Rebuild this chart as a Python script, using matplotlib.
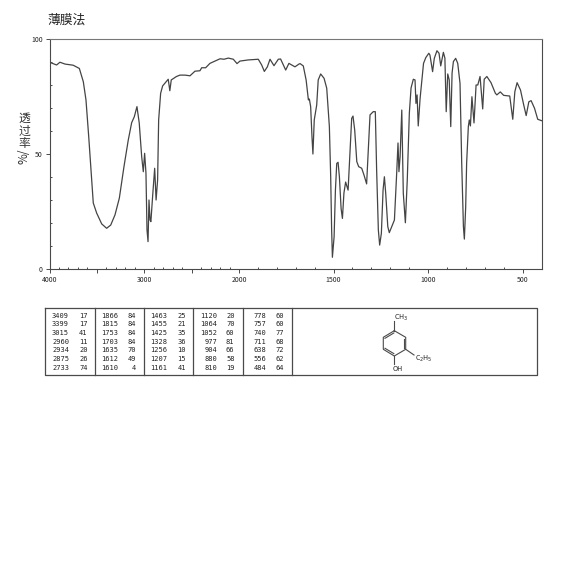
import numpy as np
import matplotlib
matplotlib.use("Agg")
import matplotlib.pyplot as plt
from matplotlib.ticker import FixedLocator, FixedFormatter

plt.rcParams['font.family'] = ['Noto Sans CJK SC', 'DejaVu Sans']

wave = [4000, 3925, 3890, 3836, 3750, 3685, 3643, 3615, 3586, 3555, 3538, 3502, 3449, 3397, 3354, 3309,
        3263, 3214, 3169, 3133, 3105, 3077, 3053, 3027, 3010, 2996, 2982, 2971, 2960, 2950, 2939, 2930,
        2912, 2890, 2875, 2859, 2848, 2827, 2806, 2747, 2730, 2715, 2660, 2623, 2570, 2517, 2465, 2412,
        2394, 2352, 2307, 2200, 2158, 2113, 2060, 2021, 1995, 1951, 1898, 1880, 1866, 1850, 1836, 1815,
        1792, 1780, 1753, 1736, 1704, 1683, 1677, 1660, 1645, 1633, 1628, 1621, 1614, 1609, 1602, 1589,
        1581, 1568, 1550, 1536, 1522, 1515, 1510, 1506, 1497, 1490, 1483, 1476, 1469, 1460, 1453, 1445,
        1436, 1423, 1413, 1404, 1397, 1388, 1377, 1367, 1351, 1339, 1325, 1316, 1307, 1290, 1279, 1272,
        1263, 1256, 1247, 1238, 1231, 1224, 1213, 1205, 1192, 1178, 1166, 1159, 1154, 1148, 1139, 1131,
        1120, 1110, 1099, 1090, 1078, 1069, 1064, 1058, 1052, 1042, 1024, 1012, 996, 990, 976, 967,
        953, 942, 933, 919, 911, 904, 896, 888, 880, 873, 866, 854, 843, 831, 822, 813,
        808, 801, 796, 787, 782, 776, 768, 757, 746, 737, 725, 711, 703, 689, 667, 644,
        636, 618, 600, 568, 552, 541, 529, 511, 494, 481, 467, 455, 437, 420, 400]
trans = [89.9, 88.7, 89.9, 89.1, 88.6, 87.2, 81.4, 73.5, 57.5, 38.7, 28.7, 24.3, 19.6, 17.7, 19.1, 23.5,
         30.8, 44.5, 56.0, 63.6, 66.2, 70.6, 63.5, 48.8, 42.3, 50.3, 41.7, 17.0, 11.9, 30.0, 21.3, 20.6,
         31.4, 43.8, 30.0, 38.7, 64.8, 76.4, 79.6, 82.5, 77.5, 82.2, 83.7, 84.3, 84.3, 84.0, 86.0, 86.2,
         87.5, 87.5, 89.4, 91.4, 91.2, 91.7, 91.2, 89.3, 90.4, 90.9, 91.2, 88.7, 85.9, 87.9, 91.2, 88.4,
         91.2, 91.3, 86.5, 89.4, 87.9, 89.1, 89.3, 88.3, 82.2, 73.5, 73.9, 70.6, 57.5, 50.0, 64.8, 71.3,
         82.2, 84.8, 82.9, 78.6, 61.9, 40.1, 17.0, 5.1, 14.0, 34.3, 45.9, 46.4, 40.1, 26.3, 22.0, 33.0,
         37.8, 34.3, 50.4, 65.5, 66.5, 60.4, 46.7, 44.5, 43.8, 40.9, 37.0, 51.7, 67.0, 68.4, 68.4, 43.0,
         17.0, 10.4, 15.5, 34.3, 40.1, 32.9, 18.4, 15.8, 18.4, 21.3, 41.6, 54.8, 42.3, 48.8, 69.1, 33.0,
         20.1, 38.7, 67.8, 78.7, 82.5, 82.2, 72.0, 75.7, 62.2, 74.3, 89.4, 91.9, 93.8, 93.0, 85.8, 91.6,
         94.9, 93.8, 88.3, 94.2, 91.7, 68.4, 84.8, 82.2, 61.9, 85.2, 90.2, 91.6, 89.4, 80.7, 46.0, 18.4,
         13.0, 27.0, 46.0, 61.9, 64.8, 62.2, 74.9, 63.5, 80.0, 80.0, 83.7, 69.6, 82.5, 83.7, 81.0, 76.4,
         75.7, 77.0, 75.5, 75.2, 65.1, 77.1, 81.0, 77.8, 71.3, 66.7, 72.7, 73.2, 69.9, 65.1, 64.5]

# peak table, one list per column block
peak_wave = [[3409, 3399, 3015, 2960, 2934, 2875, 2733],
             [1866, 1815, 1753, 1703, 1635, 1612, 1610],
             [1463, 1455, 1425, 1328, 1256, 1207, 1161],
             [1120, 1064, 1052, 977, 904, 880, 810],
             [778, 757, 740, 711, 638, 556, 484]]
peak_trans = [[17, 17, 41, 11, 20, 26, 74],
              [84, 84, 84, 84, 70, 49, 4],
              [25, 21, 35, 36, 10, 15, 41],
              [20, 70, 60, 81, 66, 58, 19],
              [60, 60, 77, 68, 72, 62, 64]]

x_major = [4000, 3500, 3000, 2500, 2000, 1500, 1000, 500]
x_major_labels = ['4000', '', '3000', '', '2000', '1500', '1000', '500']
y_major = [0, 50, 100]
y_major_labels = ['0', '50', '100']

DARK = '#4a4a4a'
W = 570


# the wavenumber axis changes scale at 2000
def wave_to_pos(x):
    return np.interp(x, [400, 2000, 4000], [0, 302.5, 492])


def pos_to_wave(p):
    return np.interp(p, [0, 302.5, 492], [400, 2000, 4000])


fig = plt.figure(figsize=(5.7, 5.7), dpi=100)

# pixel overlay for the title, table and structure
bg = fig.add_axes([0, 0, 1, 1])
bg.set_xlim(0, W)
bg.set_ylim(W, 0)
bg.axis('off')

ax = fig.add_axes([49.5 / W, 1 - 269 / W, 492 / W, 230 / W])
ax.set_xscale('function', functions=(wave_to_pos, pos_to_wave))
ax.set_xlim(4000, 400)
ax.set_ylim(0, 100)
ax.plot(wave, trans, color='#444444', linewidth=0.9)

ax.xaxis.set_major_locator(FixedLocator(x_major))
ax.xaxis.set_major_formatter(FixedFormatter(x_major_labels))
ax.xaxis.set_minor_locator(FixedLocator(list(range(400, 2000, 100)) + list(range(2000, 4000, 100))))
ax.xaxis.set_minor_formatter(FixedFormatter([]))
ax.yaxis.set_major_locator(FixedLocator(y_major))
ax.yaxis.set_major_formatter(FixedFormatter(y_major_labels))
ax.yaxis.set_minor_locator(FixedLocator(list(range(10, 100, 10))))
ax.tick_params(axis='both', which='major', direction='out', length=3, width=0.7, color=DARK,
               labelsize=5, labelcolor='#222222', pad=2)
ax.tick_params(axis='both', which='minor', direction='in', length=1.5, width=0.7, color=DARK)
for s in ax.spines.values():
    s.set_color(DARK)
    s.set_linewidth(0.8)
ax.spines['top'].set_color('#777777')

# title and stacked y label
bg.text(47, 20, '薄膜法', fontsize=9.2, color='#222222', ha='left', va='center')
for ch, y in zip('透过率', [118, 131, 143]):
    bg.text(24, y, ch, fontsize=8.5, color='#333333', ha='center', va='center')
bg.text(24, 156, '%/', fontsize=8.5, color='#333333', ha='center', va='center', rotation=90)

# table frame
bg.plot([45, 537, 537, 45, 45], [308, 308, 375, 375, 308], color=DARK, linewidth=0.9)
for xp in [95, 144, 193, 243, 292]:
    bg.plot([xp, xp], [308, 375], color=DARK, linewidth=0.9)

row_y = [316, 324.5, 333, 341.5, 350.5, 359, 368]
wave_x = [69, 118.5, 167.5, 217.5, 266.5]
trans_x = [87.5, 136, 186, 234.5, 284]
for c in range(5):
    for r in range(7):
        bg.text(wave_x[c], row_y[r], str(peak_wave[c][r]), fontsize=5, family='DejaVu Sans Mono',
                color='#222222', ha='right', va='center')
        bg.text(trans_x[c], row_y[r], str(peak_trans[c][r]), fontsize=5, family='DejaVu Sans Mono',
                color='#222222', ha='right', va='center')

# structure, ring first
ring_x = [394.3, 405.7, 405.7, 394.3, 383.3, 383.3, 394.3]
ring_y = [330.7, 337.3, 349.3, 356, 349.3, 337.3, 330.7]
bg.plot(ring_x, ring_y, color=DARK, linewidth=0.8)
for x1, y1, x2, y2 in [(393.8, 333, 385, 338.3), (403.8, 338.5, 403.8, 348), (385, 348.3, 393.8, 353.6)]:
    bg.plot([x1, x2], [y1, y2], color=DARK, linewidth=0.8)
bg.plot([394.3, 394.3], [330.7, 321], color=DARK, linewidth=0.8)
bg.plot([394.3, 394.3], [356, 364], color=DARK, linewidth=0.8)
bg.plot([405.7, 414], [349.3, 355], color=DARK, linewidth=0.8)
bg.text(394, 317.5, 'CH$_3$', fontsize=5, color='#222222', ha='left', va='center')
bg.text(415, 359, 'C$_2$H$_5$', fontsize=5, color='#222222', ha='left', va='center')
bg.text(393, 369, 'OH', fontsize=5, color='#222222', ha='left', va='center')

fig.savefig('out.png', dpi=100)
